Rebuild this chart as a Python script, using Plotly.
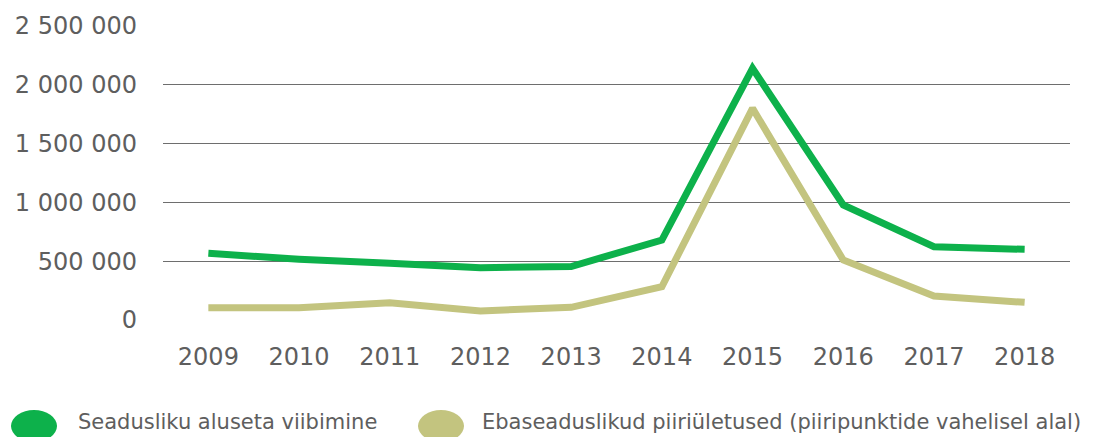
import plotly.graph_objects as go

years = ["2009", "2010", "2011", "2012", "2013", "2014", "2015", "2016", "2017", "2018"]
viibimine = [567000, 516000, 482000, 445000, 455000, 680000, 2140000, 978000, 623000, 601000]
piiriuletused = [105000, 105000, 147000, 77000, 108000, 283000, 1800000, 510000, 204000, 150000]

series_names = ["Seadusliku aluseta viibimine",
                "Ebaseaduslikud piiriületused (piiripunktide vahelisel alal)"]
series_colors = ["#0db14b", "#c3c47f"]

y_tickvals = [0, 500000, 1000000, 1500000, 2000000, 2500000]
y_ticktext = ["0", "500 000", "1 000 000", "1 500 000", "2 000 000", "2 500 000"]

FONT = "DejaVu Sans"
TEXT_COLOR = "#5e5e5e"

fig = go.Figure()
for name, vals, color in zip(series_names, [viibimine, piiriuletused], series_colors):
    fig.add_trace(go.Scatter(
        x=years, y=vals, name=name, mode="lines",
        line=dict(color=color, width=7, shape="linear"),
        showlegend=False,
    ))

# custom legend: rounded blobs with labels underneath the plot
blob_x = [34, 441]
label_x = [76, 480]
for i in range(2):
    fig.add_shape(
        type="circle", xref="paper", yref="paper",
        xsizemode="pixel", ysizemode="pixel",
        xanchor=(blob_x[i] - 163) / 907, yanchor=-(426 - 320) / 294,
        x0=-23, x1=23, y0=-16, y1=16,
        fillcolor=series_colors[i], line=dict(width=0),
    )
    fig.add_annotation(
        xref="paper", yref="paper",
        x=(label_x[i] - 163) / 907, y=-(422 - 320) / 294,
        xanchor="left", yanchor="middle", showarrow=False,
        text=series_names[i],
        font=dict(family=FONT, size=21, color=TEXT_COLOR),
    )

fig.update_layout(
    width=1099, height=437,
    margin=dict(l=163, r=29, t=26, b=117),
    paper_bgcolor="white", plot_bgcolor="white",
    font=dict(family=FONT, size=24, color=TEXT_COLOR),
    xaxis=dict(
        type="category", range=[-0.5, 9.5],
        showgrid=False, zeroline=False, showline=False,
        ticks="", ticklabelstandoff=20,
        tickfont=dict(family=FONT, size=24, color=TEXT_COLOR),
    ),
    yaxis=dict(
        range=[0, 2500000], tickvals=y_tickvals, ticktext=y_ticktext,
        showgrid=True, gridcolor="#6e6e6e", gridwidth=1,
        zeroline=False, showline=False, ticks="", ticklabelstandoff=25,
        tickfont=dict(family=FONT, size=24, color=TEXT_COLOR),
    ),
)

fig.write_html("out.html")
